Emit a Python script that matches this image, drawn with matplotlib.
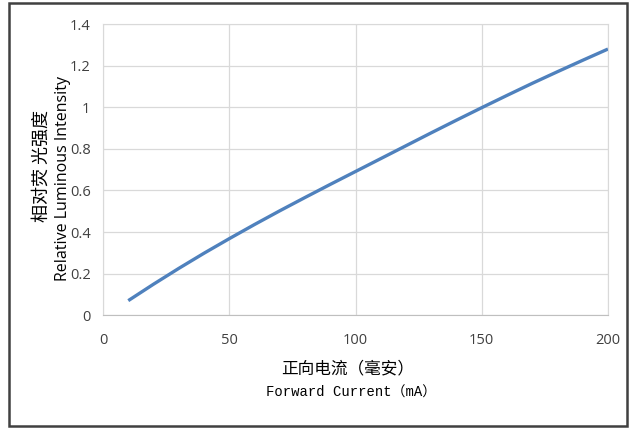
import matplotlib
matplotlib.use('Agg')
import matplotlib.pyplot as plt
from matplotlib.patches import Rectangle

plt.rcParams['font.family'] = ['Open Sans', 'Noto Sans CJK SC', 'DejaVu Sans']

# forward current (mA) vs relative luminous intensity
current = [10, 20, 30, 40, 50, 60, 70, 80, 90, 100,
           110, 120, 130, 140, 150, 160, 170, 180, 190, 200]
intensity = [0.07, 0.149, 0.225, 0.298, 0.368, 0.436, 0.502, 0.566, 0.629, 0.691,
             0.753, 0.815, 0.877, 0.938, 0.998, 1.057, 1.115, 1.171, 1.226, 1.28]

x_ticks = [0, 50, 100, 150, 200]
y_ticks = [0, 0.2, 0.4, 0.6, 0.8, 1.0, 1.2, 1.4]
y_tick_labels = ['0', '0.2', '0.4', '0.6', '0.8', '1', '1.2', '1.4']

fig = plt.figure(figsize=(6.32, 4.30), dpi=100)
ax = fig.add_axes([0.163, 0.267, 0.799, 0.677])

ax.plot(current, intensity, color='#4f81bd', linewidth=2.4, solid_capstyle='butt')

ax.set_xlim(0, 200)
ax.set_ylim(0, 1.4)
ax.set_xticks(x_ticks)
ax.set_yticks(y_ticks)
ax.set_yticklabels(y_tick_labels)
ax.tick_params(length=0, labelsize=10.5, colors='#404040')
ax.tick_params(axis='x', pad=13)
ax.tick_params(axis='y', pad=9)
ax.grid(True, color='#d9d9d9', linewidth=0.9)
ax.set_axisbelow(True)
for side in ['top', 'right', 'left']:
    ax.spines[side].set_color('#d9d9d9')
ax.spines['bottom'].set_color('#bfbfbf')

# axis titles, Chinese over English
fig.text(0.55, 0.143, '正向电流（毫安）', ha='center', va='center', fontsize=12,
         family=['Noto Sans CJK SC', 'DejaVu Sans'])
fig.text(0.555, 0.086, 'Forward Current（mA）', ha='center', va='center', fontsize=10,
         family=['Liberation Mono', 'Noto Sans CJK SC'])
fig.text(0.066, 0.615, '相对荧 光强度', ha='center', va='center', rotation=90, fontsize=13,
         family=['Noto Sans CJK SC', 'DejaVu Sans'])
fig.text(0.099, 0.585, 'Relative Luminous Intensity', ha='center', va='center',
         rotation=90, fontsize=11.5)

# frame round the whole picture
fig.patches.append(Rectangle((0.015, 0.01), 0.977, 0.982, transform=fig.transFigure,
                             fill=False, edgecolor='#404040', linewidth=1.8))

fig.savefig('out.png', dpi=100)
